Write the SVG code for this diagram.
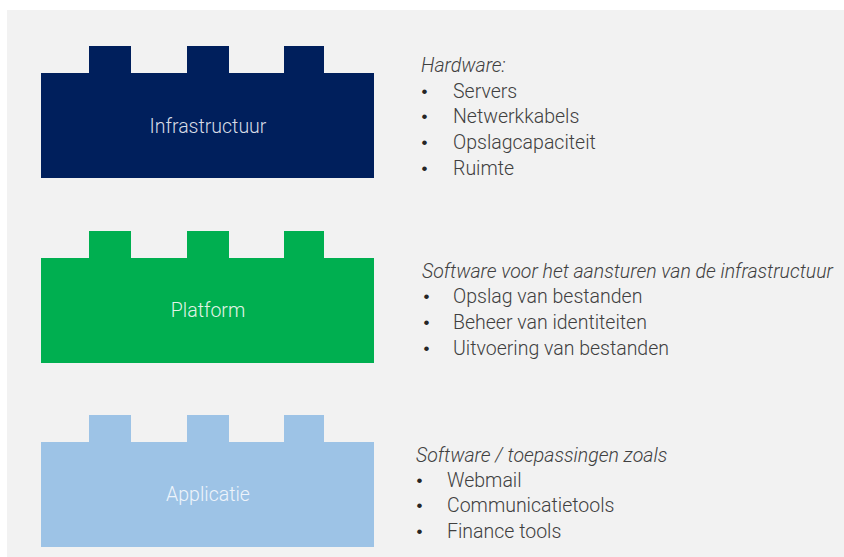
<svg xmlns="http://www.w3.org/2000/svg" xmlns:xlink="http://www.w3.org/1999/xlink" width="844" height="557" viewBox="0 0 844 557">
  <style>
    .label { font-family: Roboto, "Liberation Sans", sans-serif; font-weight: 300; font-size: 19.5px; text-anchor: middle; }
    .head { font-family: Roboto, "Liberation Sans", sans-serif; font-weight: 300; font-style: italic; font-size: 19.5px; fill: #404040; }
    .item { font-family: Roboto, "Liberation Sans", sans-serif; font-weight: 300; font-size: 19.5px; fill: #404040; }
    .dot { font-family: "Liberation Sans", Arial, sans-serif; font-size: 17px; fill: #262626; text-anchor: middle; }
  </style>
  <defs>
    <!-- brick outline: three studs on top of a wide body, origin at the stud tops -->
    <path id="brick" d="M41,27 H89 V0 H131 V27 H187 V0 H229 V27 H284 V0 H324 V27 H374 V132 H41 Z"/>
  </defs>

  <rect x="0" y="0" width="844" height="557" fill="#ffffff"/>
  <rect x="7" y="10" width="837" height="547" fill="#f2f2f2"/>

  <g id="infrastructuur">
    <use xlink:href="#brick" href="#brick" transform="translate(0,46)" fill="#001f5c"/>
    <text class="label" x="208" y="133" fill="#d8dce6">Infrastructuur</text>
  </g>

  <g id="platform">
    <use xlink:href="#brick" href="#brick" transform="translate(0,231)" fill="#00af50"/>
    <text class="label" x="208" y="317" fill="#e3f4e8">Platform</text>
  </g>

  <g id="applicatie">
    <use xlink:href="#brick" href="#brick" transform="translate(0,415)" fill="#9dc3e6"/>
    <text class="label" x="208" y="501" fill="#eef4fb">Applicatie</text>
  </g>

  <g id="hardware-list">
    <text class="head" x="421" y="72">Hardware:</text>
    <text class="dot" x="424.5" y="97">•</text><text class="item" x="453" y="98">Servers</text>
    <text class="dot" x="424.5" y="122">•</text><text class="item" x="453" y="123">Netwerkkabels</text>
    <text class="dot" x="424.5" y="148">•</text><text class="item" x="453" y="149">Opslagcapaciteit</text>
    <text class="dot" x="424.5" y="174">•</text><text class="item" x="453" y="175">Ruimte</text>
  </g>

  <g id="platform-list">
    <text class="head" x="422" y="278">Software voor het aansturen van de infrastructuur</text>
    <text class="dot" x="426.5" y="302">•</text><text class="item" x="453" y="303">Opslag van bestanden</text>
    <text class="dot" x="426.5" y="328">•</text><text class="item" x="453" y="329">Beheer van identiteiten</text>
    <text class="dot" x="426.5" y="354">•</text><text class="item" x="453" y="355">Uitvoering van bestanden</text>
  </g>

  <g id="applicatie-list">
    <text class="head" x="416" y="462">Software / toepassingen zoals</text>
    <text class="dot" x="419.5" y="486">•</text><text class="item" x="447" y="487">Webmail</text>
    <text class="dot" x="419.5" y="511">•</text><text class="item" x="447" y="512">Communicatietools</text>
    <text class="dot" x="419.5" y="537">•</text><text class="item" x="447" y="538">Finance tools</text>
  </g>
</svg>
